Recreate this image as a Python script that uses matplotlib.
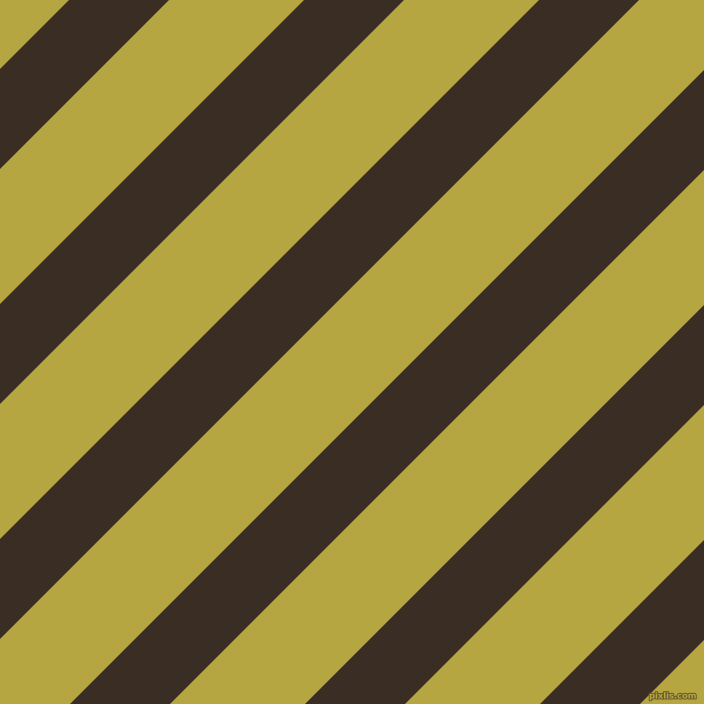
import numpy as np
import matplotlib
matplotlib.use("Agg")
import matplotlib.pyplot as plt
import matplotlib.patheffects as pe

# Diagonal stripe bands: dark stripes occupy x + y in [start, end] (pixel units)
band_starts = [69, 304, 539, 774, 1009, 1244]
band_ends = [169, 404, 639, 874, 1109, 1344]
background_color = "#b6a642"
stripe_color = "#3a2d23"
size = 704

fig = plt.figure(figsize=(7.04, 7.04), dpi=100)
ax = fig.add_axes([0, 0, 1, 1])
ax.set_facecolor(background_color)
fig.patch.set_facecolor(background_color)
ax.set_xlim(0, size)
ax.set_ylim(size, 0)
ax.axis("off")

x = np.array([0.0, float(size)])
for s, e in zip(band_starts, band_ends):
    ax.fill_between(x, s - x, e - x, color=stripe_color, linewidth=0)

ax.text(673, 696, "pixlis.com", fontsize=6, color="#b6a642", ha="center", va="center",
        fontweight="bold",
        path_effects=[pe.withStroke(linewidth=1.5, foreground="#6b5e2e")])

fig.savefig("out.png", dpi=100, facecolor=background_color)
